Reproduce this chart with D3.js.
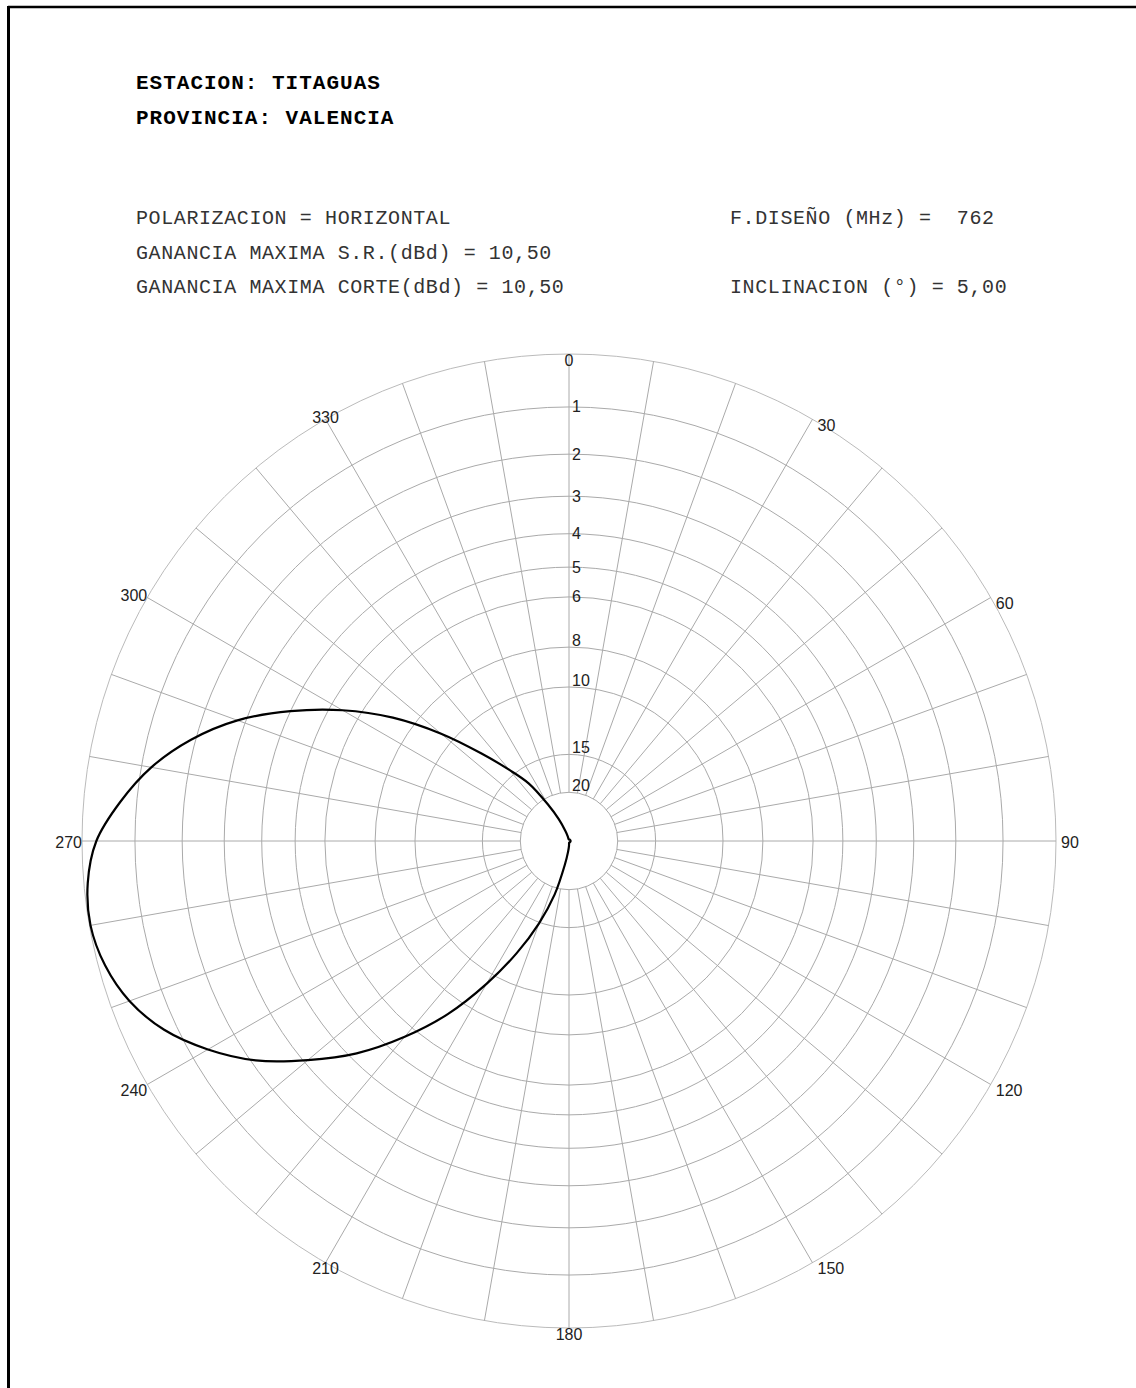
<!DOCTYPE html>
<html lang="es">
<head>
    <meta charset="UTF-8">
    <title>Diagrama horizontal - Titaguas</title>
    <script src="https://d3js.org/d3.v7.min.js"></script>
    <style>
        body {
            margin: 0;
            padding: 0;
            background-color: #fff;
        }
        .mono {
            font-family: "Liberation Mono", "Courier New", monospace;
            white-space: pre;
        }
        .lbl {
            font-family: "Liberation Sans", Arial, sans-serif;
            font-size: 16px;
            fill: #222;
        }
    </style>
</head>
<body>
    <div id="chart"></div>
    <script>
        // header texts
        var titleLines = ["ESTACION: TITAGUAS", "PROVINCIA: VALENCIA"];
        var leftInfo = ["POLARIZACION = HORIZONTAL",
            "GANANCIA MAXIMA S.R.(dBd) = 10,50",
            "GANANCIA MAXIMA CORTE(dBd) = 10,50"];
        var rightInfo = ["F.DISEÑO (MHz) =  762", "", "INCLINACION (°) = 5,00"];

        // polar grid
        var angleLabels = [0, 30, 60, 90, 120, 150, 180, 210, 240, 270, 300, 330];
        var spokeAngles = [0, 10, 20, 30, 40, 50, 60, 70, 80, 90, 100, 110, 120, 130, 140, 150, 160, 170,
            180, 190, 200, 210, 220, 230, 240, 250, 260, 270, 280, 290, 300, 310, 320, 330, 340, 350];
        var ringDb = [0, 1, 2, 3, 4, 5, 6, 8, 10, 15, 20];

        // pattern: attenuation (dB) every 5 degrees, 0..355
        var patternAngles = [0, 5, 10, 15, 20, 25, 30, 35, 40, 45, 50, 55, 60, 65, 70, 75, 80, 85,
            90, 95, 100, 105, 110, 115, 120, 125, 130, 135, 140, 145, 150, 155, 160, 165, 170, 175,
            180, 185, 190, 195, 200, 205, 210, 215, 220, 225, 230, 235, 240, 245, 250, 255, 260, 265,
            270, 275, 280, 285, 290, 295, 300, 305, 310, 315, 320, 325, 330, 335, 340, 345, 350, 355];
        var patternDb = [50, 50, 50, 50, 50, 50, 50, 50, 50, 50, 50, 50, 50, 50, 50, 50, 50, 50,
            50, 50, 50, 50, 50, 50, 50, 50, 50, 50, 50, 50, 50, 50, 50, 50, 50, 50,
            40, 33, 26, 18.9, 14.9, 11.9, 9.4, 7.25, 5.6, 4.2, 3.1, 2.1, 1.35, 0.75, 0.35, 0.12, 0.02, 0.07,
            0.26, 0.68, 1.2, 1.9, 2.8, 4.0, 5.4, 7.1, 9.3, 11.9, 14.4, 16.8, 21.2, 26.2, 33, 40, 50, 50];

        var width = 1136, height = 1388;
        var cx = 569, cy = 841, R = 487;

        var svg = d3.select("#chart")
            .append("svg")
            .attr("width", width)
            .attr("height", height);

        // frame (top and left)
        svg.append("line")
            .attr("x1", 8).attr("y1", 7).attr("x2", width).attr("y2", 7)
            .attr("stroke", "#000").attr("stroke-width", 2.5);
        svg.append("line")
            .attr("x1", 8.5).attr("y1", 6).attr("x2", 8.5).attr("y2", height)
            .attr("stroke", "#000").attr("stroke-width", 3);

        // header
        svg.selectAll(".title")
            .data(titleLines)
            .enter()
            .append("text")
            .attr("class", "mono title")
            .attr("x", 136)
            .attr("y", function (d, i) { return 89 + i * 35; })
            .style("font-size", "21px")
            .style("font-weight", "bold")
            .style("letter-spacing", "1px")
            .attr("fill", "#000")
            .text(function (d) { return d; });

        svg.selectAll(".infoL")
            .data(leftInfo)
            .enter()
            .append("text")
            .attr("class", "mono infoL")
            .attr("x", 136)
            .attr("y", function (d, i) { return 224 + i * 34.5; })
            .style("font-size", "20px")
            .style("letter-spacing", "0.6px")
            .attr("fill", "#333")
            .text(function (d) { return d; });

        svg.selectAll(".infoR")
            .data(rightInfo)
            .enter()
            .append("text")
            .attr("class", "mono infoR")
            .attr("x", 730)
            .attr("y", function (d, i) { return 224 + i * 34.5; })
            .style("font-size", "20px")
            .style("letter-spacing", "0.6px")
            .attr("fill", "#333")
            .text(function (d) { return d; });

        // radius from attenuation: linear field scale
        var r = d3.scaleLinear().domain([0, 1]).range([0, R]);
        function rad(db) { return r(Math.pow(10, -db / 20)); }

        var g = svg.append("g")
            .attr("transform", "translate(" + cx + "," + cy + ")");

        // rings
        g.selectAll(".ring")
            .data(ringDb)
            .enter()
            .append("circle")
            .attr("r", function (d) { return rad(d); })
            .attr("fill", "none")
            .attr("stroke", function (d) { return d === 0 ? "#bbb" : "#aaa"; })
            .attr("stroke-width", 1);

        // spokes
        var inner = rad(d3.max(ringDb));
        g.selectAll(".spoke")
            .data(spokeAngles)
            .enter()
            .append("line")
            .attr("x1", function (d) { return inner * Math.sin(d * Math.PI / 180); })
            .attr("y1", function (d) { return -inner * Math.cos(d * Math.PI / 180); })
            .attr("x2", function (d) { return R * Math.sin(d * Math.PI / 180); })
            .attr("y2", function (d) { return -R * Math.cos(d * Math.PI / 180); })
            .attr("stroke", "#aaa")
            .attr("stroke-width", 1);

        // ring labels
        g.selectAll(".ringLbl")
            .data(ringDb.filter(function (d) { return d > 0; }))
            .enter()
            .append("text")
            .attr("class", "lbl")
            .attr("x", 3)
            .attr("y", function (d) { return -rad(d) - (d >= 8 ? 7 : 0); })
            .attr("dominant-baseline", "central")
            .text(function (d) { return d; });

        // angle labels
        g.selectAll(".angLbl")
            .data(angleLabels)
            .enter()
            .append("text")
            .attr("class", "lbl")
            .attr("text-anchor", function (d) {
                var s = Math.sin(d * Math.PI / 180);
                return s > 0.1 ? "start" : (s < -0.6 ? "end" : "middle");
            })
            .attr("x", function (d) {
                var s = Math.sin(d * Math.PI / 180);
                return R * s + (s > 0.1 ? 5 : 0);
            })
            .attr("y", function (d) {
                var s = Math.sin(d * Math.PI / 180), c = Math.cos(d * Math.PI / 180);
                var dy = Math.abs(c) < 0.1 ? 1 : (s < -0.1 && c > 0.1 ? -2 : 6);
                return -R * c + dy;
            })
            .attr("dominant-baseline", "central")
            .text(function (d) { return d; });

        // pattern
        var pts = patternAngles.map(function (a, i) { return { angle: a, db: patternDb[i] }; });
        var line = d3.lineRadial()
            .angle(function (d) { return d.angle * Math.PI / 180; })
            .radius(function (d) { return rad(d.db); })
            .curve(d3.curveCatmullRomClosed.alpha(0.5));

        g.append("path")
            .datum(pts)
            .attr("d", line)
            .attr("fill", "none")
            .attr("stroke", "#000")
            .attr("stroke-width", 2.2)
            .attr("stroke-linejoin", "round");
    </script>
</body>
</html>
